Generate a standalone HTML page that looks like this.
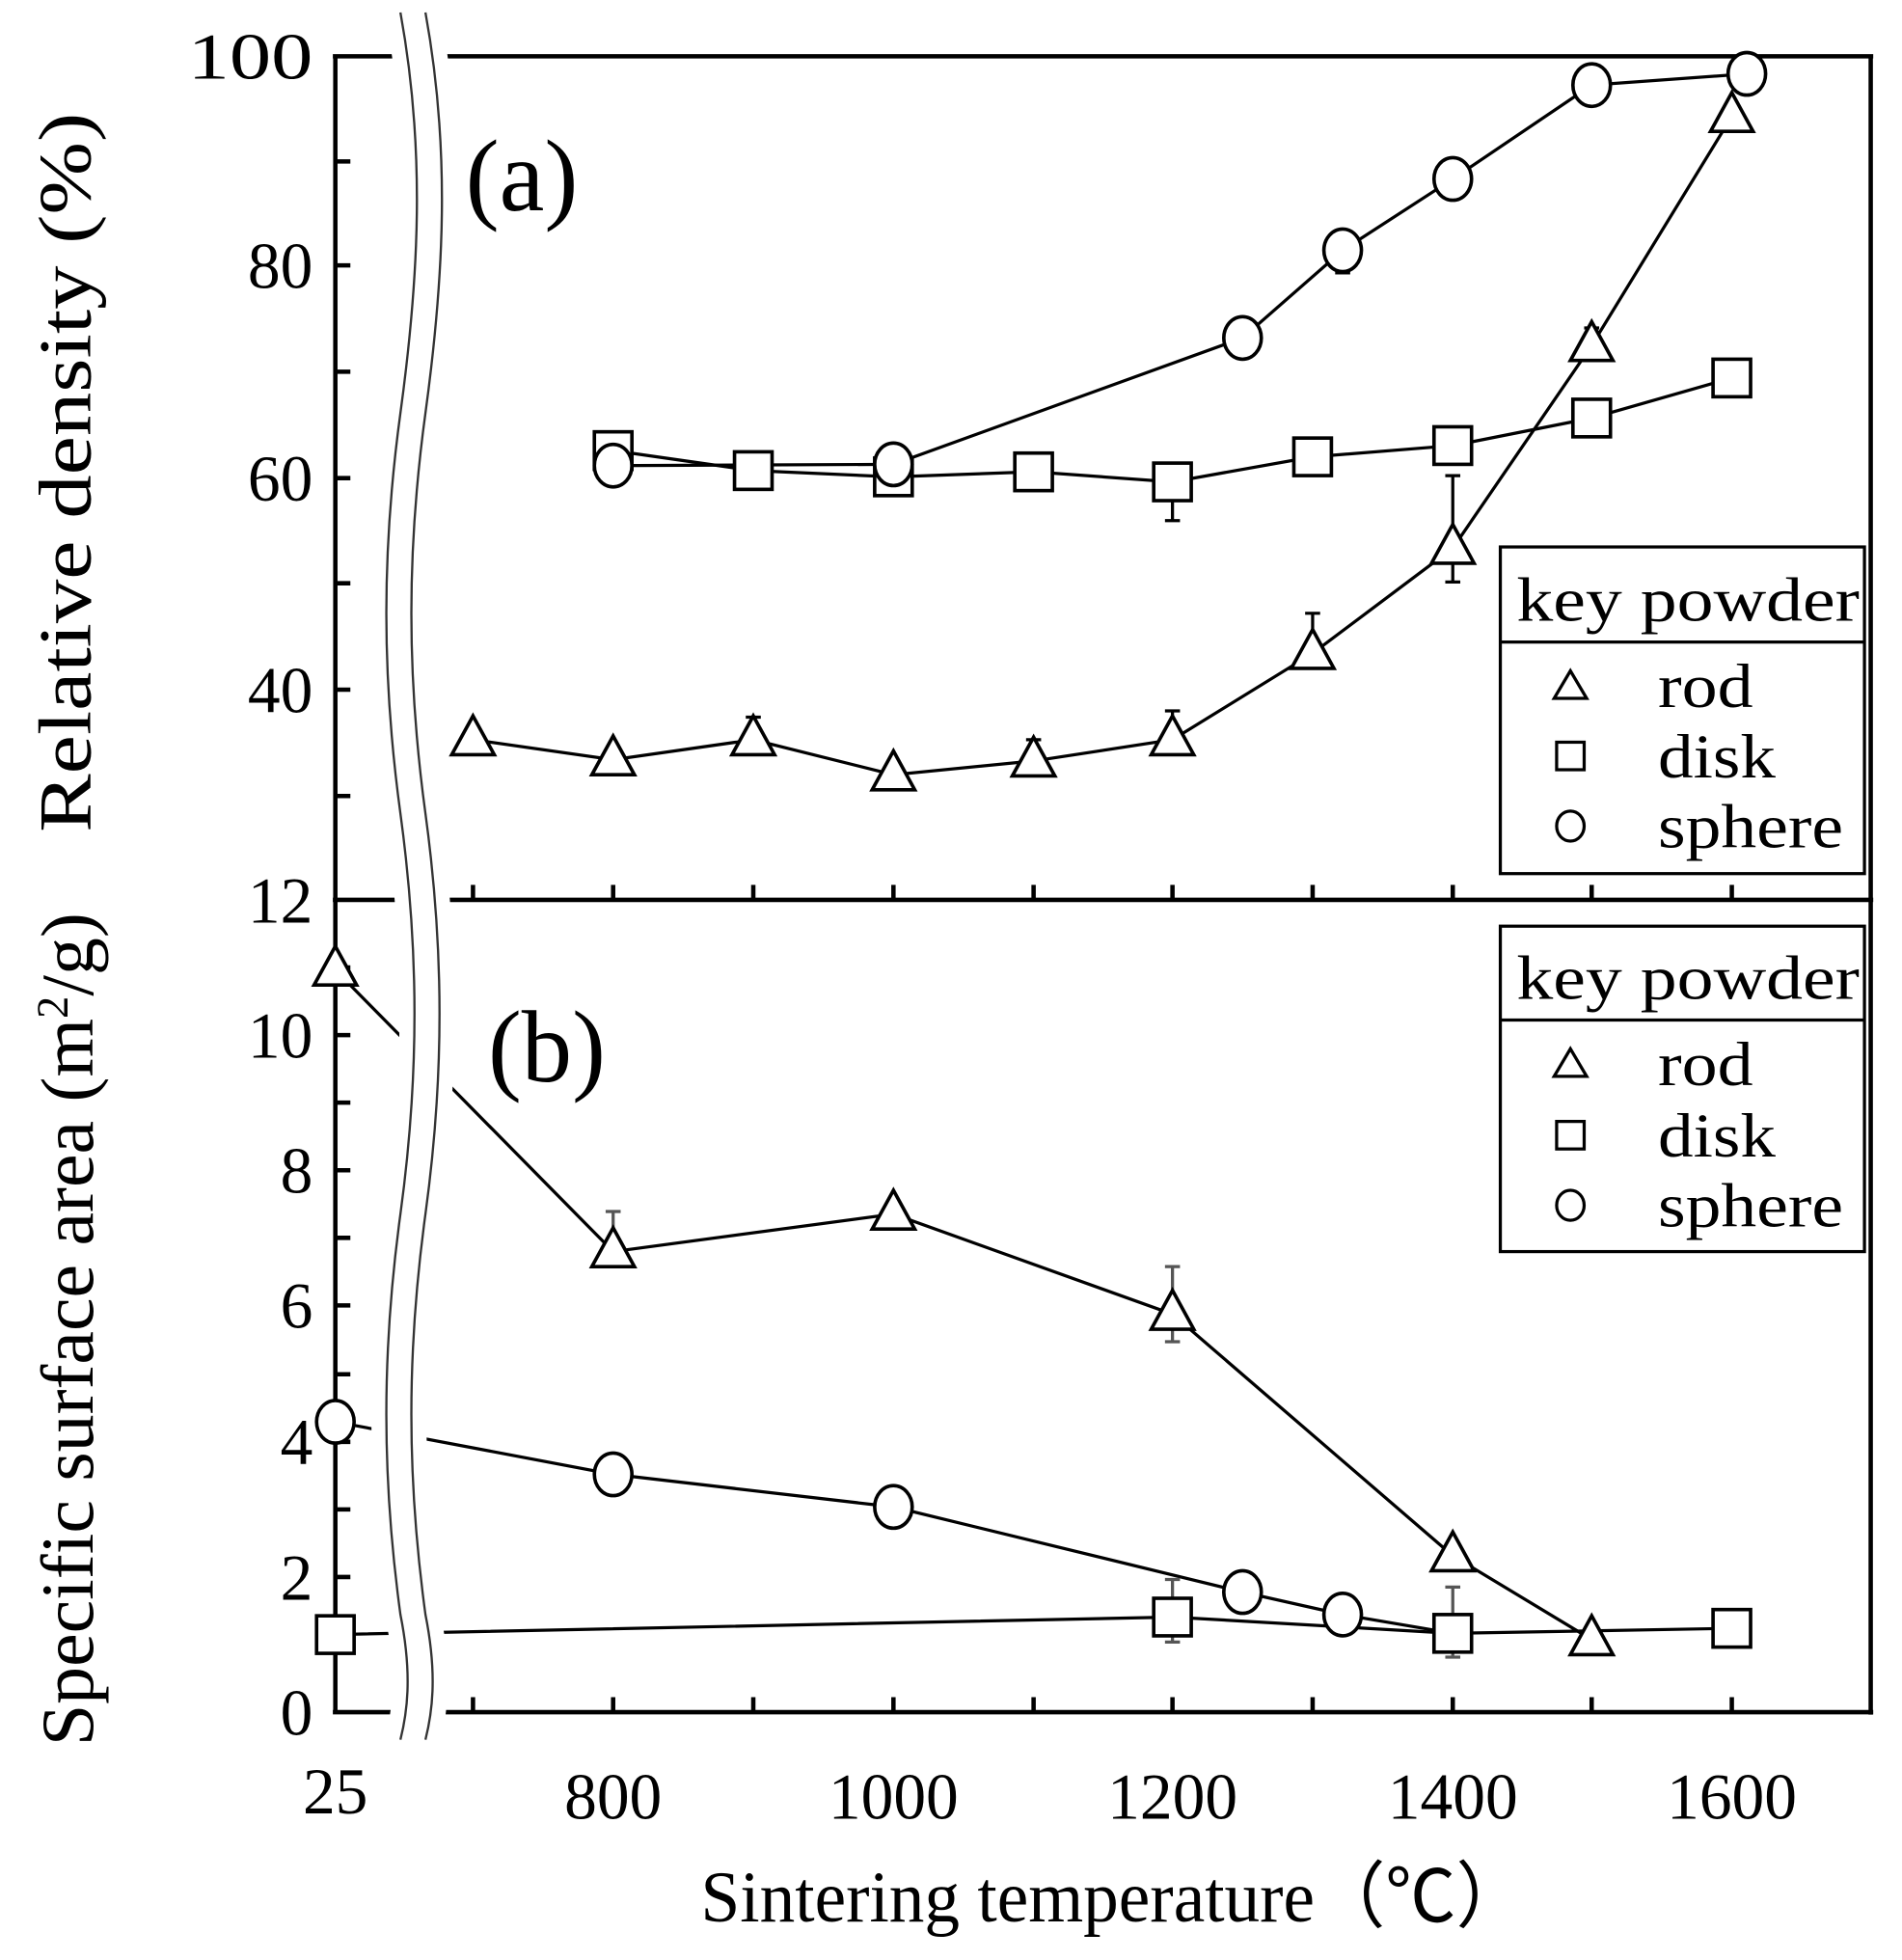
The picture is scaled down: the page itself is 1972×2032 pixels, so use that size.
<!DOCTYPE html>
<html><head><meta charset="utf-8"><style>html,body{margin:0;padding:0;background:#fff}svg{display:block}</style></head>
<body>
<svg width="1972" height="2032" viewBox="0 0 1520 1566" preserveAspectRatio="none" xmlns="http://www.w3.org/2000/svg" font-family="Liberation Serif, serif">
<g stroke="#000" stroke-width="3.5" fill="none">
<line x1="268" y1="45" x2="268" y2="1368"/>
<line x1="1495" y1="45" x2="1495" y2="1370"/>
<line x1="266" y1="45" x2="1497" y2="45"/>
<line x1="266" y1="719" x2="1497" y2="719"/>
<line x1="266" y1="1368" x2="1497" y2="1368"/>
<path d="M268 129h12M268 212h12M268 297h12M268 382h12M268 466h12M268 551h12M268 636h12"/>
<path d="M268 773h12M268 827h12M268 881h12M268 935h12M268 989h12M268 1043h12M268 1098h12M268 1152h12M268 1206h12M268 1260h12M268 1314h12"/>
<path d="M378 719v-12M490 719v-12M602 719v-12M714 719v-12M826 719v-12M937 719v-12M1049 719v-12M1161 719v-12M1272 719v-12M1384 719v-12"/>
<path d="M378 1368v-12M490 1368v-12M602 1368v-12M714 1368v-12M826 1368v-12M937 1368v-12M1049 1368v-12M1161 1368v-12M1272 1368v-12M1384 1368v-12"/>
</g>
<g stroke="#000" stroke-width="2.5" fill="none">
<polyline points="378,591 490,607 602,591 714,619 826,608 937,591 1049,522 1161,438 1272,276 1384,93"/>
<polyline points="490,360 602,376 714,381 826,377 937,385 1049,365 1161,356 1272,334 1384,302"/>
<polyline points="490,372 714,371 993,270 1073,200 1161,143 1272,68 1396,59"/>
<polyline points="268,775 490,1000 714,970 937,1050 1161,1243 1272,1310"/>
<polyline points="268,1136 490,1178 714,1204 993,1272 1073,1290 1161,1305"/>
<polyline points="268,1306 937,1292 1161,1305 1384,1301"/>
<path d="M602 591v-18m-6 0h12M826 608v-17m-6 0h12M937 591v-23m-6 0h12M1049 522v-32m-6 0h12M1161 438v-58m-6 0h12M1161 438v27m-6 0h12M1272 276v-14m-6 0h12M937 385v31m-6 0h12M1073 200v18m-6 0h12"/>
</g>
<g stroke="#555" stroke-width="2.5" fill="none">
<path d="M490 1000v-32m-6 0h12M937 1050v-38m-6 0h12M937 1050v22m-6 0h12M937 1292v-30m-6 0h12M937 1292v20m-6 0h12M1161 1305v-37m-6 0h12M1161 1305v19m-6 0h12M1073 1290v10m-6 0h12"/>
</g>
<defs>
<path id="tri" d="M0 -19 L17 12 L-17 12 Z" fill="#fff" stroke="#000" stroke-width="2.8"/>
<rect id="sq" x="-15" y="-15" width="30" height="30" fill="#fff" stroke="#000" stroke-width="2.8"/>
<ellipse id="ci" rx="15" ry="17" fill="#fff" stroke="#000" stroke-width="2.8"/>
</defs>
<g>
<use href="#sq" x="490" y="360"/><use href="#sq" x="602" y="376"/><use href="#sq" x="714" y="381"/><use href="#sq" x="826" y="377"/><use href="#sq" x="937" y="385"/><use href="#sq" x="1049" y="365"/><use href="#sq" x="1161" y="356"/><use href="#sq" x="1272" y="334"/><use href="#sq" x="1384" y="302"/>
<use href="#ci" x="490" y="372"/><use href="#ci" x="714" y="371"/><use href="#ci" x="993" y="270"/><use href="#ci" x="1073" y="200"/><use href="#ci" x="1161" y="143"/><use href="#ci" x="1272" y="68"/><use href="#ci" x="1396" y="59"/>
<use href="#tri" x="378" y="591"/><use href="#tri" x="490" y="607"/><use href="#tri" x="602" y="591"/><use href="#tri" x="714" y="619"/><use href="#tri" x="826" y="608"/><use href="#tri" x="937" y="591"/><use href="#tri" x="1049" y="522"/><use href="#tri" x="1161" y="438"/><use href="#tri" x="1272" y="276"/><use href="#tri" x="1384" y="93"/>
<use href="#sq" x="268" y="1306"/><use href="#sq" x="937" y="1292"/><use href="#sq" x="1161" y="1305"/><use href="#sq" x="1384" y="1301"/>
<use href="#ci" x="268" y="1136"/><use href="#ci" x="490" y="1178"/><use href="#ci" x="714" y="1204"/><use href="#ci" x="993" y="1272"/><use href="#ci" x="1073" y="1290"/>
<use href="#tri" x="268" y="775"/><use href="#tri" x="490" y="1000"/><use href="#tri" x="714" y="970"/><use href="#tri" x="937" y="1050"/><use href="#tri" x="1161" y="1243"/><use href="#tri" x="1272" y="1310"/>
</g>
<path d="M330 10 C350 120,345 220,330 330 C315 440,315 540,330 650 C345 760,345 860,330 970 C315 1080,315 1180,330 1290 C340 1340,335 1370,330 1390" stroke="#fff" stroke-width="44" fill="none"/>
<g stroke="#333" stroke-width="1.8" fill="none">
<path transform="translate(-10,0)" d="M330 10 C350 120,345 220,330 330 C315 440,315 540,330 650 C345 760,345 860,330 970 C315 1080,315 1180,330 1290 C340 1340,335 1370,330 1390"/>
<path transform="translate(10,0)" d="M330 10 C350 120,345 220,330 330 C315 440,315 540,330 650 C345 760,345 860,330 970 C315 1080,315 1180,330 1290 C340 1340,335 1370,330 1390"/>
</g>
<g stroke="#000" stroke-width="2.5" fill="#fff">
<rect x="1199" y="437" width="291" height="261"/><line x1="1199" y1="513" x2="1490" y2="513"/>
<rect x="1199" y="740" width="291" height="260"/><line x1="1199" y1="815" x2="1490" y2="815"/>
</g>
<g fill="#fff" stroke="#000" stroke-width="2.5">
<path d="M1255 536 L1268 558 L1242 558 Z"/><rect x="1244" y="593" width="22" height="22"/><ellipse cx="1255" cy="660" rx="11" ry="12"/>
<path d="M1255 838 L1268 860 L1242 860 Z"/><rect x="1244" y="896" width="22" height="22"/><ellipse cx="1255" cy="963" rx="11" ry="12"/>
</g>
<g font-size="50" fill="#000" lengthAdjust="spacingAndGlyphs">
<text x="1212" y="496" textLength="274" lengthAdjust="spacingAndGlyphs">key powder</text>
<text x="1325" y="565" textLength="76" lengthAdjust="spacingAndGlyphs">rod</text><text x="1325" y="621" textLength="94" lengthAdjust="spacingAndGlyphs">disk</text><text x="1325" y="677" textLength="148" lengthAdjust="spacingAndGlyphs">sphere</text>
<text x="1212" y="798" textLength="274" lengthAdjust="spacingAndGlyphs">key powder</text>
<text x="1325" y="867" textLength="76" lengthAdjust="spacingAndGlyphs">rod</text><text x="1325" y="924" textLength="94" lengthAdjust="spacingAndGlyphs">disk</text><text x="1325" y="980" textLength="148" lengthAdjust="spacingAndGlyphs">sphere</text>
</g>
<text x="372" y="168" font-size="82" textLength="90" lengthAdjust="spacingAndGlyphs">(a)</text>
<text x="390" y="864" font-size="82" textLength="94" lengthAdjust="spacingAndGlyphs">(b)</text>
<g font-size="52" text-anchor="end">
<text x="250" y="63" textLength="100" lengthAdjust="spacingAndGlyphs">100</text><text x="250" y="230">80</text><text x="250" y="400">60</text><text x="250" y="569">40</text><text x="250" y="737">12</text>
<text x="250" y="845">10</text><text x="250" y="953">8</text><text x="250" y="1061">6</text><text x="250" y="1170">4</text><text x="250" y="1278">2</text><text x="250" y="1386">0</text>
</g>
<g font-size="52" text-anchor="middle">
<text x="268" y="1449">25</text><text x="490" y="1453">800</text><text x="714" y="1453">1000</text><text x="937" y="1453">1200</text><text x="1161" y="1453">1400</text><text x="1384" y="1453">1600</text>
</g>
<text x="560" y="1535" font-size="58" textLength="660" lengthAdjust="spacingAndGlyphs">Sintering temperature（℃）</text>
<text transform="translate(72,665) rotate(-90)" font-size="60" textLength="575" lengthAdjust="spacingAndGlyphs">Relative density (%)</text>
<text transform="translate(74,1395) rotate(-90)" font-size="60">Specific surface area (m<tspan font-size="36" dy="-20">2</tspan><tspan dy="20">/g)</tspan></text>
</svg>
</body></html>
